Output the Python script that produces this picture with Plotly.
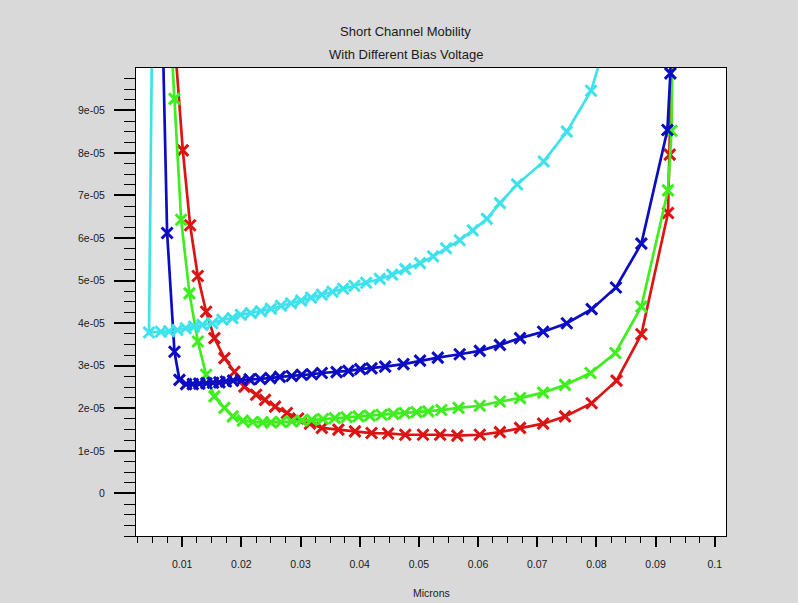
import plotly.graph_objects as go

# ---- data (x in microns, y in units of 1e-05) ----
cyan_x = [0.0050, 0.0044, 0.0064, 0.0078, 0.0092, 0.0106, 0.0120, 0.0134, 0.0151, 0.0168,
          0.0185, 0.0199, 0.0216, 0.0233, 0.0250, 0.0267, 0.0284, 0.0301, 0.0318, 0.0336,
          0.0354, 0.0372, 0.0391, 0.0411, 0.0434, 0.0455, 0.0477, 0.0502, 0.0524, 0.0546,
          0.0569, 0.0591, 0.0615, 0.0637, 0.0666, 0.0711, 0.0750, 0.0791, 0.0835]
cyan_y = [12.0, 3.78, 3.80, 3.81, 3.84, 3.88, 3.92, 3.96, 4.00, 4.08,
          4.12, 4.20, 4.24, 4.28, 4.34, 4.41, 4.47, 4.53, 4.60, 4.67,
          4.74, 4.81, 4.88, 4.95, 5.04, 5.14, 5.27, 5.41, 5.57, 5.76,
          5.95, 6.18, 6.45, 6.82, 7.26, 7.80, 8.50, 9.46, 11.5]

blue_x = [0.00652, 0.00746, 0.0087, 0.00954, 0.01067, 0.0118, 0.0129, 0.0141, 0.0152, 0.0163,
          0.0174, 0.0186, 0.0200, 0.0214, 0.0232, 0.0249, 0.0265, 0.0285, 0.0302, 0.0319,
          0.0336, 0.0361, 0.0381, 0.0401, 0.0420, 0.0443, 0.0474, 0.0502, 0.0532, 0.0569,
          0.0603, 0.0637, 0.0671, 0.0710, 0.0750, 0.0792, 0.0833, 0.0876, 0.0920, 0.0925, 0.0927]
blue_y = [12.0, 6.12, 3.33, 2.67, 2.57, 2.57, 2.58, 2.59, 2.60, 2.61,
          2.63, 2.65, 2.66, 2.68, 2.69, 2.71, 2.74, 2.76, 2.79, 2.80,
          2.83, 2.85, 2.88, 2.92, 2.94, 2.98, 3.04, 3.12, 3.19, 3.27,
          3.35, 3.49, 3.65, 3.80, 4.00, 4.33, 4.84, 5.87, 8.54, 9.87, 12.0]

green_x = [0.0076, 0.0087, 0.00983, 0.01123, 0.01265, 0.01405, 0.01545, 0.01714, 0.01856, 0.02025,
           0.02193, 0.0236, 0.0250, 0.0267, 0.0285, 0.0302, 0.0319, 0.0338, 0.0358, 0.0378,
           0.0398, 0.0417, 0.0437, 0.0457, 0.0476, 0.0496, 0.0516, 0.0538, 0.0567, 0.0603,
           0.0637, 0.0671, 0.0710, 0.0747, 0.0790, 0.0832, 0.0876, 0.0921, 0.0927, 0.0929]
green_y = [12.0, 9.27, 6.43, 4.70, 3.57, 2.79, 2.28, 2.01, 1.81, 1.71,
           1.68, 1.67, 1.67, 1.68, 1.69, 1.71, 1.73, 1.75, 1.77, 1.79,
           1.81, 1.83, 1.85, 1.87, 1.89, 1.91, 1.93, 1.96, 2.01, 2.06,
           2.16, 2.24, 2.37, 2.55, 2.83, 3.30, 4.39, 7.12, 8.52, 12.0]

red_x = [0.0080, 0.01011, 0.01135, 0.01264, 0.01405, 0.01545, 0.01714, 0.01883, 0.02052, 0.0225,
         0.0240, 0.0257, 0.0277, 0.0296, 0.0316, 0.0336, 0.0364, 0.0392, 0.0420, 0.0448,
         0.0477, 0.0507, 0.0536, 0.0565, 0.0603, 0.0637, 0.0671, 0.0710, 0.0747, 0.0792,
         0.0834, 0.0876, 0.0921, 0.0924, 0.0930]
red_y = [12.0, 8.06, 6.30, 5.11, 4.27, 3.65, 3.18, 2.86, 2.51, 2.32,
         2.20, 2.04, 1.89, 1.76, 1.64, 1.54, 1.50, 1.46, 1.42, 1.41,
         1.38, 1.38, 1.38, 1.36, 1.38, 1.44, 1.54, 1.64, 1.81, 2.12,
         2.65, 3.74, 6.59, 7.96, 12.0]

y_tick_vals = [0, 1, 2, 3, 4, 5, 6, 7, 8, 9]
y_tick_text = ["0", "1e-05", "2e-05", "3e-05", "4e-05", "5e-05", "6e-05", "7e-05", "8e-05", "9e-05"]
x_tick_vals = [0.01, 0.02, 0.03, 0.04, 0.05, 0.06, 0.07, 0.08, 0.09, 0.1]
x_tick_text = ["0.01", "0.02", "0.03", "0.04", "0.05", "0.06", "0.07", "0.08", "0.09", "0.1"]

SCALE = 1e-05

series = [
    ("red", red_x, red_y, "#dc1414"),
    ("green", green_x, green_y, "#3fee1e"),
    ("blue", blue_x, blue_y, "#0c0cc4"),
    ("cyan", cyan_x, cyan_y, "#3ee2ec"),
]

fig = go.Figure()
for name, xs, ys, col in series:
    fig.add_trace(go.Scatter(
        x=xs, y=[v * SCALE for v in ys], mode="lines+markers", name=name,
        line=dict(color=col, width=2.7),
        marker=dict(symbol="x-thin", size=11, color=col, line=dict(color=col, width=3)),
        cliponaxis=True,
    ))

font = dict(family="Liberation Sans, Arial, sans-serif", color="#1a1a1a")

fig.update_layout(
    width=798, height=603,
    margin=dict(l=136, r=72, t=68, b=67),
    paper_bgcolor="#d9d9d9",
    plot_bgcolor="white",
    showlegend=False,
    font=dict(family=font["family"], size=10.5, color=font["color"]),
    annotations=[
        dict(text="Short Channel Mobility", xref="paper", yref="paper", x=0.4576, y=1.0776,
             xanchor="center", yanchor="middle", showarrow=False, font=dict(size=13)),
        dict(text="With Different Bias Voltage", xref="paper", yref="paper", x=0.4576, y=1.0295,
             xanchor="center", yanchor="middle", showarrow=False, font=dict(size=13)),
        dict(text="Microns", xref="paper", yref="paper", x=0.5, y=-0.121,
             xanchor="center", yanchor="middle", showarrow=False, font=dict(size=10.5)),
    ],
)

fig.update_xaxes(
    range=[0.0022, 0.1019],
    showgrid=False, zeroline=False,
    showline=True, linecolor="black", linewidth=1, mirror=True,
    tickmode="array", tickvals=x_tick_vals, ticktext=x_tick_text,
    ticks="outside", ticklen=10, tickwidth=2, tickcolor="black",
    ticklabelstandoff=8,
    minor=dict(tickmode="linear", tick0=0, dtick=0.0025, ticks="outside", ticklen=6,
               tickwidth=1, tickcolor="black", showgrid=False),
)
fig.update_yaxes(
    range=[-0.999e-05, 0.9995e-04],
    showgrid=False, zeroline=False,
    showline=True, linecolor="black", linewidth=1, mirror=True,
    tickmode="array", tickvals=[v * SCALE for v in y_tick_vals], ticktext=y_tick_text,
    ticks="outside", ticklen=21, tickwidth=2, tickcolor="black",
    ticklabelstandoff=7,
    minor=dict(tickmode="linear", tick0=0, dtick=2.5e-06, ticks="outside", ticklen=11,
               tickwidth=1, tickcolor="black", showgrid=False),
)

fig.write_html("out.html")
